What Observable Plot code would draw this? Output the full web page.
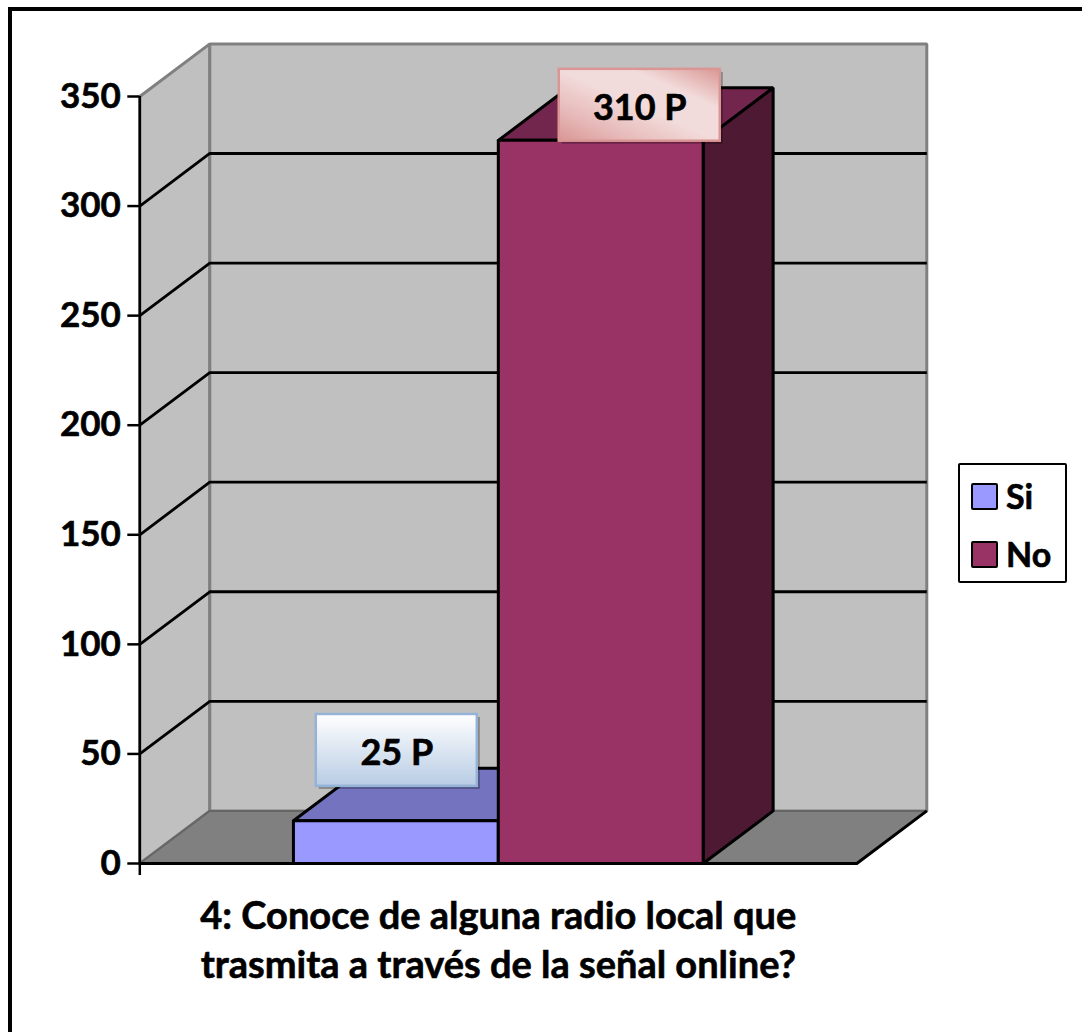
<!DOCTYPE html>
<html lang="es">
<head>
<meta charset="utf-8">
<script src="https://cdn.jsdelivr.net/npm/d3@7"></script>
<script src="https://cdn.jsdelivr.net/npm/@observablehq/plot@0.6"></script>
<style>
  html,body{margin:0;padding:0;background:#fff;}
  #page{position:relative;width:1082px;height:1032px;overflow:hidden;font-family:Lato,sans-serif;}
  #edge{position:absolute;left:8px;top:7px;right:-10px;bottom:-10px;border-left:4px solid #000;border-top:4px solid #000;pointer-events:none;}
  #legend{position:absolute;left:958px;top:463px;width:105px;height:116px;border:2.5px solid #000;border-radius:2px;background:#fff;font:bold 34px Lato,sans-serif;color:#000;-webkit-text-stroke:0.6px #000;}
  .item{position:absolute;left:11px;display:flex;align-items:center;height:28px;line-height:28px;}
  .swatch{display:inline-block;box-sizing:border-box;width:27px;height:27px;border:2.5px solid #000;border-radius:2px;margin-right:8px;-webkit-text-stroke:0;}
  #chart svg text{stroke:#000;stroke-width:0.6px;paint-order:stroke;}
</style>
</head>
<body>
<div id="page">
  <div id="chart"></div>
  <div id="edge"></div>
  <div id="legend"></div>
</div>
<script>
// ---- data ----
const categories = ["Si", "No"];
const drawnValues = [19.5, 330];          // heights as drawn
const valueLabels = ["25 P", "310 P"];    // labels as printed
const labelX = [1.2545, 2.4405];          // label centres, in bar widths along the axis
const labelY = [51.6, 346];               // label centres, in axis values
const yTicks = [0, 50, 100, 150, 200, 250, 300, 350];
const captionLines = ["4: Conoce de alguna radio local que", "trasmita a través de la señal online?"];

// ---- colours ----
const frontColors = ["#9999ff", "#993366"];
const topColors = ["#7373bf", "#73264d"];
const sideColors = ["#4d4d80", "#4d1933"];

// ---- oblique projection, in data units ----
const gapUnits = 0.75;               // floor margin either side of the two bars, in bar widths
const floorUnits = gapUnits * 2 + categories.length;
const depthX = 0.3417, depthY = 24;
const yMax = 350;
const P = (x, v, d = 0) => [x + d * depthX, v + d * depthY];
const poly = (pts, o) => Plot.line([...pts, pts[0]], {x: p => p[0], y: p => p[1], strokeLinejoin: "miter", ...o});
const seg = (pts, o) => Plot.line(pts, {x: p => p[0], y: p => p[1], strokeLinecap: "butt", ...o});

const wallGray = "#c0c0c0", edgeGray = "#808080", floorGray = "#808080";

const defs = () => {
  const d = d3.create("svg:defs");
  const blue = d.append("linearGradient").attr("id", "gBlue").attr("x1", 0).attr("y1", 0).attr("x2", 0).attr("y2", 1);
  blue.append("stop").attr("offset", "0%").attr("stop-color", "#ffffff");
  blue.append("stop").attr("offset", "100%").attr("stop-color", "#b8cce4");
  const red = d.append("linearGradient").attr("id", "gRed").attr("x1", 0).attr("y1", 1).attr("x2", 1).attr("y2", 0);
  red.append("stop").attr("offset", "0%").attr("stop-color", "#d99694");
  red.append("stop").attr("offset", "22%").attr("stop-color", "#e6b9b8");
  red.append("stop").attr("offset", "50%").attr("stop-color", "#f2dcdb");
  red.append("stop").attr("offset", "72%").attr("stop-color", "#f2dcdb");
  red.append("stop").attr("offset", "100%").attr("stop-color", "#d99694");
  return d.node();
};

const marks = [defs];

// walls and floor
marks.push(
  poly([P(0, 0), P(0, 0, 1), P(0, yMax, 1), P(0, yMax)], {fill: wallGray, stroke: edgeGray, strokeWidth: 3}),
  poly([P(0, 0, 1), P(floorUnits, 0, 1), P(floorUnits, yMax, 1), P(0, yMax, 1)], {fill: wallGray, stroke: edgeGray, strokeWidth: 3}),
  poly([P(0, 0), P(floorUnits, 0), P(floorUnits, 0, 1), P(0, 0, 1)], {fill: floorGray, stroke: "#666", strokeWidth: 2}),
  seg([P(0, 0), P(floorUnits, 0), P(floorUnits, 0, 1)], {stroke: "#000", strokeWidth: 3})
);

// gridlines on the side and back walls
for (const t of yTicks.filter(t => t > 0 && t < yMax)) {
  marks.push(seg([P(0, t), P(0, t, 1), P(floorUnits, t, 1)], {stroke: "#000", strokeWidth: 2.8}));
}

// bars (drawn back-to-front, left to right)
categories.forEach((c, i) => {
  const x0 = gapUnits + i, x1 = x0 + 1, v = drawnValues[i];
  const o = {stroke: "#000", strokeWidth: 3};
  marks.push(
    poly([P(x1, 0), P(x1, 0, 1), P(x1, v, 1), P(x1, v)], {...o, fill: sideColors[i]}),
    poly([P(x0, v), P(x1, v), P(x1, v, 1), P(x0, v, 1)], {...o, fill: topColors[i]}),
    poly([P(x0, 0), P(x1, 0), P(x1, v), P(x0, v)], {...o, fill: frontColors[i]})
  );
});

// left axis line running past the floor
marks.push(Plot.ruleX([0], {y1: 0, y2: yMax, stroke: "#000", strokeWidth: 2.5}));
marks.push(Plot.ruleX([0], {y1: -5.5, y2: 0, stroke: "#000", strokeWidth: 2.5}));
marks.push(seg([P(0, 0), P(floorUnits, 0)], {stroke: "#000", strokeWidth: 3}));

// value labels
const boxW = 0.393, boxH = 16.4;
const boxes = categories.map((c, i) => ({
  x1: labelX[i] - boxW, x2: labelX[i] + boxW, y1: labelY[i] - boxH, y2: labelY[i] + boxH,
  x: labelX[i], y: labelY[i], t: valueLabels[i]
}));
const gradients = ["url(#gBlue)", "url(#gRed)"];
const borders = ["#95b3d7", "#d99694"];
boxes.forEach((b, i) => {
  marks.push(
    Plot.rect([b], {x1: "x1", x2: "x2", y1: "y1", y2: "y2", fill: "#000", fillOpacity: 0.3, dx: 3, dy: 3}),
    Plot.rect([b], {x1: "x1", x2: "x2", y1: "y1", y2: "y2", fill: gradients[i], stroke: borders[i], strokeWidth: 2.5}),
    Plot.text([b], {x: "x", y: "y", dy: 3, text: "t", fontSize: 36, fontWeight: 700, fill: "#000", fontFamily: "Lato"})
  );
});

// axis tick labels
marks.push(Plot.axisY(yTicks, {
  anchor: "left", tickSize: 12, tickPadding: 7, label: null, stroke: "#000", strokeWidth: 2.5,
  fontSize: 35, fontWeight: 700, fill: "#000", color: "#000", fontFamily: "Lato"
}));

// category title, two lines
marks.push(Plot.text(captionLines, {
  x: () => floorUnits / 2, y: (d, i) => -24.5 - i * 22,
  text: d => d, fontSize: 38, fontWeight: 700, fill: "#000", fontFamily: "Lato"
}));

const chart = Plot.plot({
  width: 1082, height: 1032,
  marginLeft: 139.3, marginRight: 225.7, marginTop: 96, marginBottom: 169,
  x: {domain: [0, floorUnits], axis: null},
  y: {domain: [0, yMax], axis: null},
  style: {background: "transparent", fontFamily: "Lato", overflow: "visible"},
  marks
});
document.getElementById("chart").appendChild(chart);

// legend
const legend = document.getElementById("legend");
categories.forEach((c, i) => {
  const row = document.createElement("div");
  row.className = "item";
  row.style.top = (17 + i * 58) + "px";
  const s = document.createElement("span");
  s.className = "swatch";
  s.style.background = frontColors[i];
  row.appendChild(s);
  row.appendChild(document.createTextNode(c));
  legend.appendChild(row);
});
</script>
</body>
</html>
